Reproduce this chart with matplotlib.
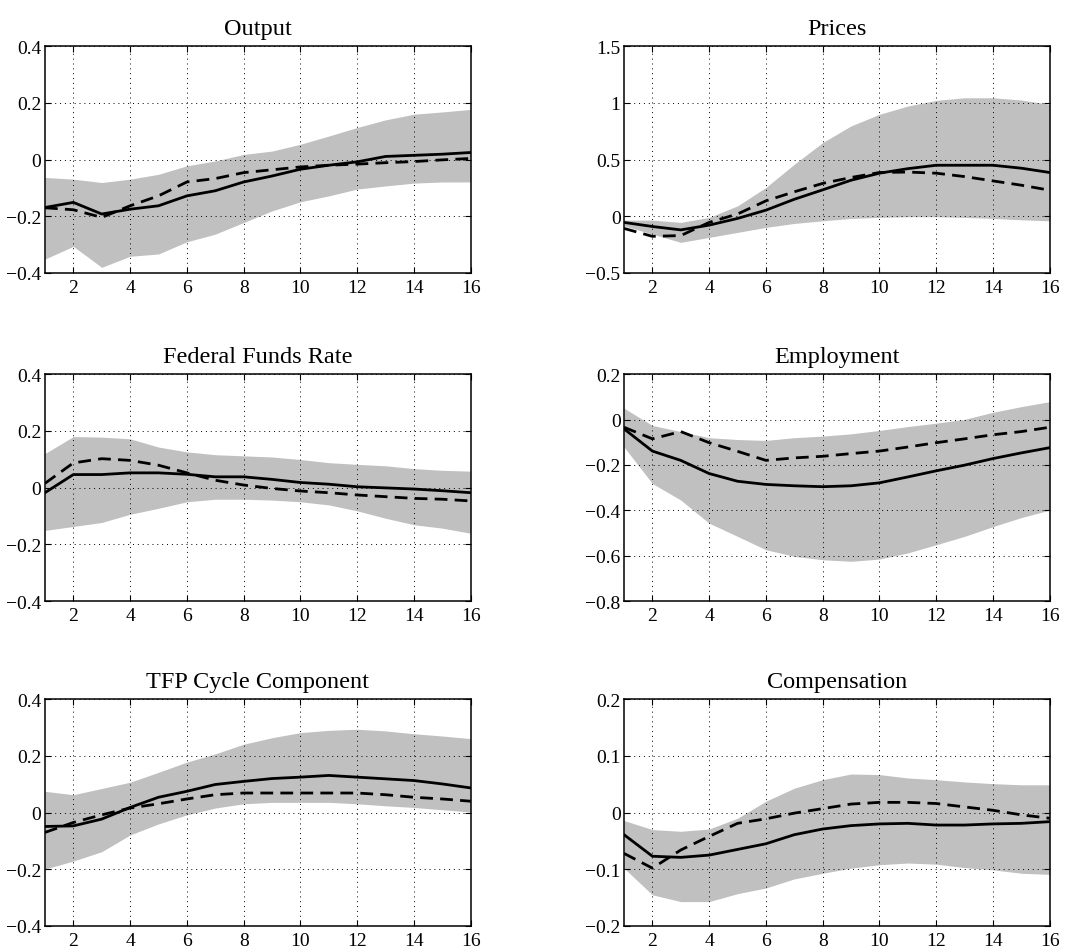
import matplotlib
matplotlib.use("Agg")
import matplotlib.pyplot as plt
from matplotlib.ticker import FixedLocator

plt.rcParams['font.family'] = ['Liberation Serif', 'DejaVu Serif']

horizon = list(range(1, 17))

titles = ["Output", "Prices", "Federal Funds Rate", "Employment",
          "TFP Cycle Component", "Compensation"]

# solid line (point estimate)
output_solid = [-0.169, -0.151, -0.192, -0.175, -0.163, -0.128, -0.110, -0.079,
                -0.058, -0.034, -0.020, -0.008, 0.011, 0.015, 0.019, 0.025]
prices_solid = [-0.054, -0.090, -0.120, -0.078, -0.019, 0.054, 0.150, 0.233,
                0.318, 0.380, 0.420, 0.450, 0.450, 0.450, 0.424, 0.386]
ffr_solid = [-0.018, 0.046, 0.046, 0.052, 0.052, 0.047, 0.038, 0.038,
             0.029, 0.018, 0.012, 0.003, -0.001, -0.005, -0.011, -0.018]
emp_solid = [-0.041, -0.139, -0.180, -0.238, -0.272, -0.286, -0.292, -0.296,
             -0.292, -0.279, -0.253, -0.226, -0.201, -0.172, -0.147, -0.124]
tfp_solid = [-0.049, -0.047, -0.023, 0.018, 0.054, 0.075, 0.099, 0.110,
             0.120, 0.125, 0.131, 0.125, 0.119, 0.113, 0.101, 0.087]
comp_solid = [-0.039, -0.077, -0.079, -0.075, -0.065, -0.055, -0.039, -0.029,
              -0.023, -0.020, -0.019, -0.022, -0.022, -0.020, -0.019, -0.016]

# dashed line
output_dash = [-0.170, -0.177, -0.204, -0.163, -0.128, -0.079, -0.067, -0.046,
               -0.036, -0.026, -0.020, -0.016, -0.011, -0.007, -0.001, 0.004]
prices_dash = [-0.107, -0.177, -0.170, -0.054, 0.020, 0.136, 0.216, 0.290,
               0.342, 0.386, 0.390, 0.380, 0.350, 0.312, 0.274, 0.230]
ffr_dash = [0.015, 0.087, 0.102, 0.096, 0.079, 0.052, 0.026, 0.009,
            -0.003, -0.012, -0.018, -0.026, -0.032, -0.038, -0.041, -0.047]
emp_dash = [-0.034, -0.085, -0.053, -0.102, -0.140, -0.180, -0.169, -0.162,
            -0.150, -0.139, -0.121, -0.102, -0.085, -0.067, -0.053, -0.034]
tfp_dash = [-0.070, -0.035, -0.008, 0.016, 0.031, 0.048, 0.063, 0.069,
            0.069, 0.069, 0.069, 0.069, 0.063, 0.054, 0.048, 0.040]
comp_dash = [-0.072, -0.098, -0.066, -0.042, -0.019, -0.011, -0.001, 0.007,
             0.015, 0.018, 0.018, 0.016, 0.010, 0.004, -0.004, -0.010]

# band upper / lower
output_hi = [-0.063, -0.069, -0.081, -0.069, -0.052, -0.022, -0.005, 0.018,
             0.030, 0.054, 0.083, 0.113, 0.140, 0.160, 0.168, 0.177]
output_lo = [-0.351, -0.306, -0.380, -0.341, -0.333, -0.290, -0.263, -0.222,
             -0.181, -0.149, -0.128, -0.104, -0.093, -0.083, -0.079, -0.079]
prices_hi = [-0.034, -0.034, -0.054, -0.010, 0.092, 0.254, 0.459, 0.650,
             0.797, 0.899, 0.972, 1.022, 1.045, 1.045, 1.025, 0.987]
prices_lo = [-0.084, -0.157, -0.230, -0.186, -0.142, -0.098, -0.063, -0.040,
             -0.019, -0.010, -0.004, -0.004, -0.010, -0.019, -0.031, -0.040]
ffr_hi = [0.120, 0.180, 0.178, 0.172, 0.143, 0.126, 0.116, 0.112,
          0.108, 0.099, 0.088, 0.082, 0.077, 0.067, 0.061, 0.058]
ffr_lo = [-0.151, -0.137, -0.123, -0.094, -0.073, -0.050, -0.041, -0.041,
          -0.044, -0.050, -0.061, -0.082, -0.108, -0.131, -0.143, -0.161]
emp_hi = [0.050, -0.026, -0.053, -0.080, -0.088, -0.092, -0.080, -0.073,
          -0.063, -0.048, -0.031, -0.016, 0.001, 0.032, 0.057, 0.079]
emp_lo = [-0.121, -0.282, -0.355, -0.457, -0.515, -0.574, -0.603, -0.618,
          -0.625, -0.615, -0.588, -0.552, -0.515, -0.472, -0.432, -0.399]
tfp_hi = [0.075, 0.063, 0.085, 0.107, 0.142, 0.178, 0.207, 0.241,
          0.264, 0.282, 0.290, 0.294, 0.288, 0.278, 0.270, 0.261]
tfp_lo = [-0.199, -0.171, -0.138, -0.079, -0.040, -0.008, 0.016, 0.031,
          0.036, 0.036, 0.036, 0.031, 0.024, 0.018, 0.010, 0.002]
comp_hi = [-0.014, -0.030, -0.033, -0.029, -0.010, 0.020, 0.043, 0.058,
           0.068, 0.067, 0.061, 0.058, 0.054, 0.051, 0.049, 0.049]
comp_lo = [-0.098, -0.145, -0.157, -0.157, -0.143, -0.133, -0.117, -0.107,
           -0.098, -0.092, -0.089, -0.091, -0.097, -0.101, -0.107, -0.109]

solids = [output_solid, prices_solid, ffr_solid, emp_solid, tfp_solid, comp_solid]
dashes = [output_dash, prices_dash, ffr_dash, emp_dash, tfp_dash, comp_dash]
his = [output_hi, prices_hi, ffr_hi, emp_hi, tfp_hi, comp_hi]
los = [output_lo, prices_lo, ffr_lo, emp_lo, tfp_lo, comp_lo]

yticks = [[-0.4, -0.2, 0, 0.2, 0.4],
          [-0.5, 0, 0.5, 1, 1.5],
          [-0.4, -0.2, 0, 0.2, 0.4],
          [-0.8, -0.6, -0.4, -0.2, 0, 0.2],
          [-0.4, -0.2, 0, 0.2, 0.4],
          [-0.2, -0.1, 0, 0.1, 0.2]]
xticks = [2, 4, 6, 8, 10, 12, 14, 16]


def fmt(v):
    s = ('%g' % v)
    return s.replace('-', '\u2212')


fig = plt.figure(figsize=(10.86, 9.53), dpi=100)

lefts = [0.0414, 0.5746]
bottoms = [0.7125, 0.3683, 0.0273]
w, h = 0.392, 0.238

for i in range(6):
    ax = fig.add_axes([lefts[i % 2], bottoms[i // 2], w, h])
    ax.fill_between(horizon, los[i], his[i], color='#c0c0c0', linewidth=0)
    ax.plot(horizon, solids[i], color='black', lw=2.0)
    ax.plot(horizon, dashes[i], color='black', lw=2.0, linestyle=(0, (4.6, 2.6)))
    ax.set_xlim(1, 16)
    ax.set_ylim(yticks[i][0], yticks[i][-1])
    ax.xaxis.set_major_locator(FixedLocator(xticks))
    ax.set_xticklabels([str(t) for t in xticks])
    ax.yaxis.set_major_locator(FixedLocator(yticks[i]))
    ax.set_yticklabels([fmt(t) for t in yticks[i]])
    ax.tick_params(direction='in', top=True, right=True, length=4, width=0.8,
                   labelsize=14, pad=4)
    ax.tick_params(axis='y', pad=2.5)
    ax.grid(True, color='black', linestyle=(0, (1, 4)), linewidth=0.7)
    for sp in ax.spines.values():
        sp.set_linewidth(1.1)
    ax.set_title(titles[i], fontsize=17.5, pad=9)

fig.savefig('out.png', dpi=100)
